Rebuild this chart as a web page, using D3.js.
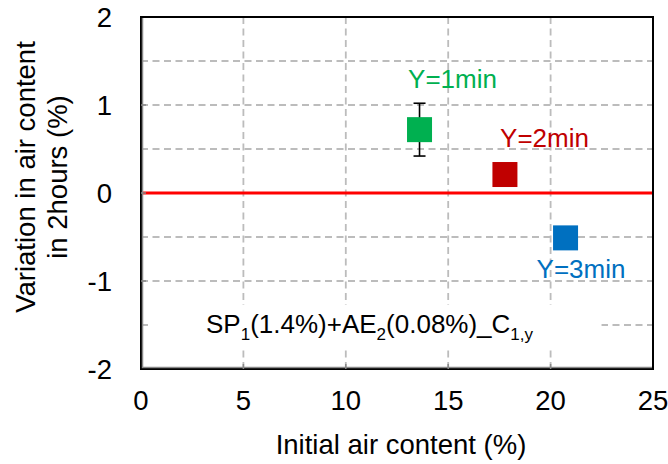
<!DOCTYPE html>
<html><head><meta charset="utf-8">
<script src="https://cdn.jsdelivr.net/npm/d3@7"></script>
<style>body{margin:0;background:#fff}svg{display:block}text{font-family:"Liberation Sans",Arial,sans-serif}</style>
</head><body>
<svg id="c" width="668" height="464"></svg>
<script>
const labels = ["Y=1min","Y=2min","Y=3min"];
const xVals = [13.6, 17.77, 20.73];
const yVals = [0.72, 0.21, -0.51];
const yErr = [0.30, 0, 0];
const colors = ["#00B050","#C00000","#0070C0"];
const xTicks = [0,5,10,15,20,25];
const yTicks = [-2,-1,0,1,2];
const xGrid = [5,10,15,20];
const yGrid = [-1.5,-1,-0.5,0.5,1,1.5];

const svg = d3.select("#c");
const L=141, R=653, T=17, B=369;
const x = d3.scaleLinear().domain([0,25]).range([L,R]);
const y = d3.scaleLinear().domain([-2,2]).range([B,T]);
const g = svg.append("g");
const FS = 27.5, LS = 26, SS = 17;

// grid
g.selectAll(".gx").data(xGrid).join("line")
 .attr("x1",d=>x(d)).attr("x2",d=>x(d)).attr("y1",T).attr("y2",B)
 .attr("stroke","#bcbcbc").attr("stroke-width",1.8).attr("stroke-dasharray","7,4.5");
g.selectAll(".gy").data(yGrid).join("line")
 .attr("x1",L).attr("x2",R).attr("y1",d=>y(d)).attr("y2",d=>y(d))
 .attr("stroke","#bcbcbc").attr("stroke-width",1.8).attr("stroke-dasharray","7,4.5");

// annotation with white background
const ann = g.append("text").attr("x",206).attr("y",333).attr("font-size",LS).attr("fill","#000");
ann.append("tspan").text("SP");
ann.append("tspan").text("1").attr("font-size",SS).attr("dy",7);
ann.append("tspan").text("(1.4%)+AE").attr("dy",-7);
ann.append("tspan").text("2").attr("font-size",SS).attr("dy",7);
ann.append("tspan").text("(0.08%)_C").attr("dy",-7);
ann.append("tspan").text("1,y").attr("font-size",SS).attr("dy",7);
const bb = ann.node().getBBox();
g.insert("rect","text").attr("x",bb.x-56).attr("y",bb.y-4).attr("width",bb.width+56+68).attr("height",bb.height+8).attr("fill","#fff");

// zero line
g.append("line").attr("x1",L).attr("x2",R).attr("y1",y(0)).attr("y2",y(0))
 .attr("stroke","#FF0000").attr("stroke-width",3);

// axes frame
g.append("rect").attr("x",L).attr("y",T).attr("width",R-L).attr("height",B-T)
 .attr("fill","none").attr("stroke","#000").attr("stroke-width",2);
g.append("path").attr("d",`M${L+1.5},${T+1}V${B-1.5}H${R-1}`).attr("fill","none").attr("stroke","#888").attr("stroke-width",1.5);

// tick marks
g.selectAll(".tx").data(xTicks.slice(1,-1)).join("line")
 .attr("x1",d=>x(d)).attr("x2",d=>x(d)).attr("y1",B).attr("y2",B-5).attr("stroke","#888").attr("stroke-width",1.5);
g.selectAll(".ty").data(yTicks.slice(1,-1)).join("line")
 .attr("x1",L).attr("x2",L+5).attr("y1",d=>y(d)).attr("y2",d=>y(d)).attr("stroke","#888").attr("stroke-width",1.5);

// tick labels
g.selectAll(".lx").data(xTicks).join("text")
 .attr("x",d=>x(d)).attr("y",410).attr("text-anchor","middle").attr("font-size",FS).text(d=>d);
g.selectAll(".ly").data(yTicks).join("text")
 .attr("x",112).attr("y",d=>y(d)+10).attr("text-anchor","end").attr("font-size",FS).text(d=>d);

// error bars
const eb = g.selectAll(".eb").data(d3.range(3).filter(i=>yErr[i]>0)).join("g");
eb.append("line").attr("x1",i=>x(xVals[i])).attr("x2",i=>x(xVals[i]))
 .attr("y1",i=>y(yVals[i]+yErr[i])).attr("y2",i=>y(yVals[i]-yErr[i])).attr("stroke","#000").attr("stroke-width",1.6);
eb.append("line").attr("x1",i=>x(xVals[i])-6).attr("x2",i=>x(xVals[i])+6)
 .attr("y1",i=>y(yVals[i]+yErr[i])).attr("y2",i=>y(yVals[i]+yErr[i])).attr("stroke","#000").attr("stroke-width",1.6);
eb.append("line").attr("x1",i=>x(xVals[i])-6).attr("x2",i=>x(xVals[i])+6)
 .attr("y1",i=>y(yVals[i]-yErr[i])).attr("y2",i=>y(yVals[i]-yErr[i])).attr("stroke","#000").attr("stroke-width",1.6);

// markers
const s = 25;
g.selectAll(".pt").data(d3.range(3)).join("rect")
 .attr("x",i=>x(xVals[i])-s/2).attr("y",i=>y(yVals[i])-s/2).attr("width",s).attr("height",s)
 .attr("fill",i=>colors[i]);

// point labels
const lp = [[452.5,88],[544.5,147],[581,278]];
g.selectAll(".pl").data(d3.range(3)).join("text")
 .attr("x",i=>lp[i][0]).attr("y",i=>lp[i][1]).attr("text-anchor","middle").attr("font-size",LS)
 .attr("fill",i=>colors[i]).text(i=>labels[i]);

// axis titles
g.append("text").attr("x",401).attr("y",454).attr("text-anchor","middle").attr("font-size",FS).text("Initial air content (%)");
const yt = g.append("text").attr("transform","translate(35,177) rotate(-90)").attr("text-anchor","middle").attr("font-size",FS);
yt.append("tspan").attr("x",0).attr("y",0).text("Variation in air content");
yt.append("tspan").attr("x",0).attr("y",32).text("in 2hours (%)");
</script>
</body></html>
